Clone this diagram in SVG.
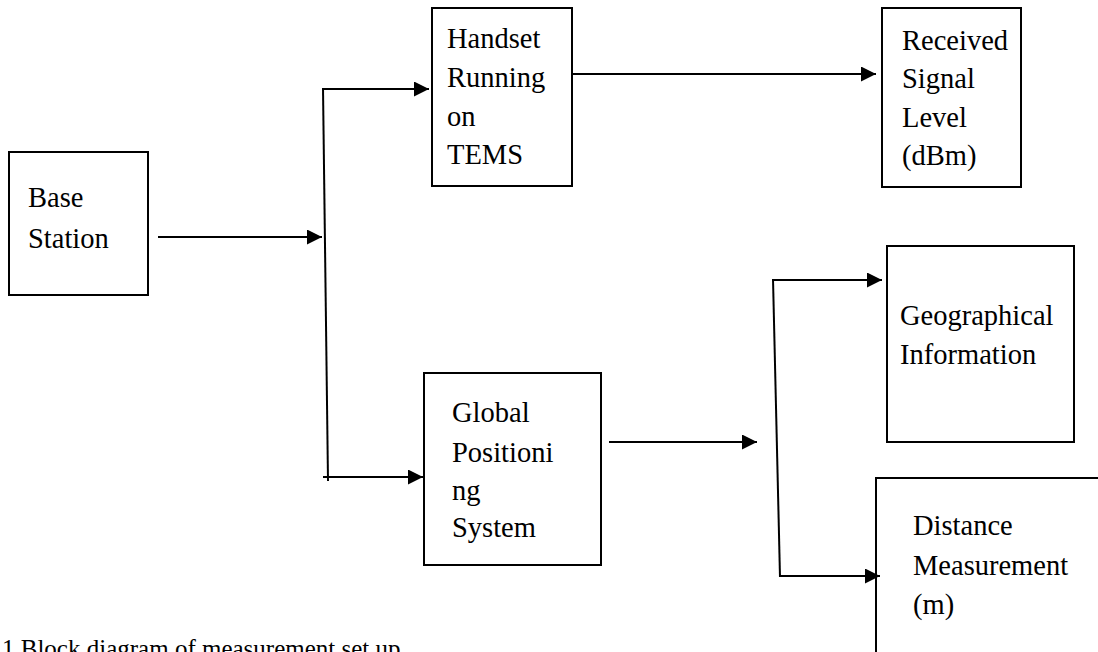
<svg xmlns="http://www.w3.org/2000/svg" width="1098" height="652" viewBox="0 0 1098 652">
<style>
.box{fill:#fff;stroke:#000;stroke-width:2}
.lbl{font-family:"Liberation Serif","Times New Roman",serif;font-size:28.5px;fill:#000}
.cap{font-family:"Liberation Serif","Times New Roman",serif;font-size:25px;fill:#000}
.con{fill:none;stroke:#000;stroke-width:2}
</style>
<defs>
<marker id="arr" markerUnits="userSpaceOnUse" markerWidth="16" markerHeight="16" refX="15" refY="7.5" orient="auto">
<path d="M0,0 L15,7.5 L0,15 z" fill="#000"/>
</marker>
</defs>
<rect width="1098" height="652" fill="#fff"/>
<g id="base-station">
<rect class="box" x="9" y="152" width="139" height="143"/>
<text class="lbl" x="28" y="207">Base</text>
<text class="lbl" x="28" y="248">Station</text>
</g>
<g id="handset">
<rect class="box" x="432" y="8" width="140" height="178"/>
<text class="lbl" x="447" y="48">Handset</text>
<text class="lbl" x="447" y="87">Running</text>
<text class="lbl" x="447" y="126">on</text>
<text class="lbl" x="447" y="164">TEMS</text>
</g>
<g id="received">
<rect class="box" x="882" y="8" width="139" height="179"/>
<text class="lbl" x="902" y="50">Received</text>
<text class="lbl" x="902" y="88">Signal</text>
<text class="lbl" x="902" y="127">Level</text>
<text class="lbl" x="902" y="165">(dBm)</text>
</g>
<g id="gps">
<rect class="box" x="424" y="373" width="177" height="192"/>
<text class="lbl" x="452" y="422">Global</text>
<text class="lbl" x="452" y="462">Positioni</text>
<text class="lbl" x="452" y="500">ng</text>
<text class="lbl" x="452" y="537">System</text>
</g>
<g id="geographical">
<rect class="box" x="887" y="246" width="187" height="196"/>
<text class="lbl" x="900" y="325">Geographical</text>
<text class="lbl" x="900" y="364">Information</text>
</g>
<g id="distance">
<rect class="box" x="876" y="478" width="240" height="200"/>
<text class="lbl" x="913" y="535">Distance</text>
<text class="lbl" x="913" y="575">Measurement</text>
<text class="lbl" x="913" y="614">(m)</text>
</g>
<g id="connectors">
<line class="con" x1="158" y1="237" x2="322" y2="237" marker-end="url(#arr)"/>
<line class="con" x1="323" y1="88" x2="328" y2="481"/>
<line class="con" x1="322" y1="89" x2="429" y2="89" marker-end="url(#arr)"/>
<line class="con" x1="323" y1="477" x2="423" y2="477" marker-end="url(#arr)"/>
<line class="con" x1="572" y1="74" x2="876" y2="74" marker-end="url(#arr)"/>
<line class="con" x1="609" y1="442" x2="757" y2="442" marker-end="url(#arr)"/>
<line class="con" x1="773" y1="279" x2="780" y2="577"/>
<line class="con" x1="772" y1="280" x2="882" y2="280" marker-end="url(#arr)"/>
<line class="con" x1="779" y1="576" x2="880" y2="576" marker-end="url(#arr)"/>
</g>
<text class="cap" x="2" y="657">1 Block diagram of measurement set up</text>
</svg>
